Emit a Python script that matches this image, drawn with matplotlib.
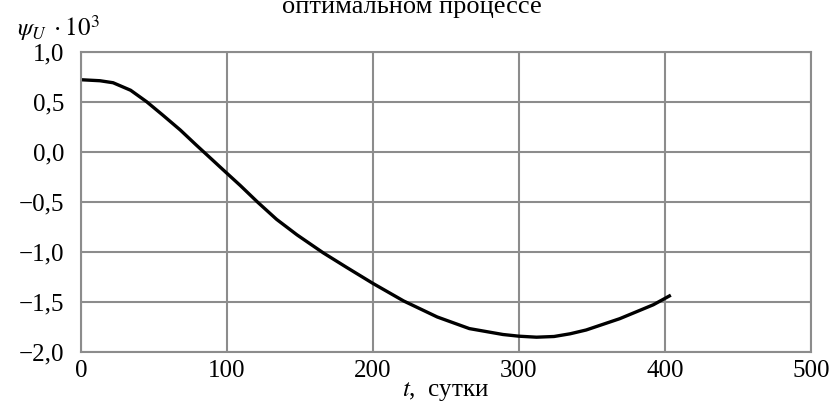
import numpy as np
import matplotlib.pyplot as plt
from matplotlib.ticker import FuncFormatter

plt.rcParams['font.family'] = ['Liberation Serif', 'DejaVu Serif']
plt.rcParams['mathtext.fontset'] = 'stix'

# psi_U * 10^3 over time, days
t = [0, 13, 22, 34, 45, 56, 68, 79, 84, 91, 95, 100, 109, 121, 134, 148,
     166, 182, 200, 221, 244, 266, 289, 300, 312, 324, 335, 346, 369, 392, 403]
psi = [0.72, 0.71, 0.69, 0.615, 0.50, 0.367, 0.218, 0.067, 0.0, -0.094,
       -0.148, -0.215, -0.335, -0.503, -0.675, -0.83, -1.01, -1.155, -1.315,
       -1.49, -1.65, -1.766, -1.825, -1.842, -1.852, -1.845, -1.818, -1.78,
       -1.667, -1.528, -1.44]

xticks = [0, 100, 200, 300, 400, 500]
yticks = [1.0, 0.5, 0.0, -0.5, -1.0, -1.5, -2.0]

fig = plt.figure(figsize=(8.33, 4.12), dpi=100)
ax = fig.add_axes([0.0972, 0.1456, 0.8764, 0.7289])

ax.plot(t, psi, color='black', lw=2.4, solid_joinstyle='round')

ax.set_xlim(0, 500)
ax.set_ylim(-2.0, 1.0)
ax.set_xticks(xticks)
ax.set_yticks(yticks)
ax.yaxis.set_major_formatter(FuncFormatter(
    lambda v, p: ('%.1f' % v).replace('.', ',').replace('-', '\u2212')))
ax.tick_params(length=0, labelsize=18)
ax.tick_params(axis='y', pad=12)
ax.tick_params(axis='x', pad=6)
ax.grid(True, color='#8c8c8c', lw=1.5)
for s in ax.spines.values():
    s.set_color('#8c8c8c')
    s.set_linewidth(1.5)

ax.set_xlabel(r'$t$,  сутки', fontsize=18, labelpad=-2)
fig.text(0.021, 1 - 36 / 412, r'$\psi_U\;\cdot 10^3$', fontsize=18)
fig.text(0.495, 1 - 12.5 / 412, 'оптимальном процессе', fontsize=19,
         ha='center', va='baseline')

fig.savefig('out.png', dpi=100)
